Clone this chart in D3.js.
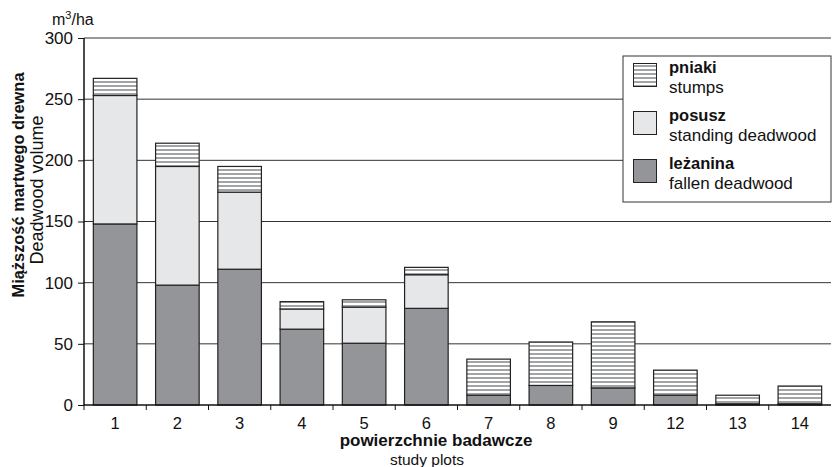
<!DOCTYPE html>
<html>
<head>
<meta charset="utf-8">
<script src="https://cdn.jsdelivr.net/npm/d3@7"></script>
<style>
body { margin: 0; background: #fff; }
text { font-family: "Liberation Sans", Arial, sans-serif; fill: #111; }
</style>
</head>
<body>
<script>
// study plots and volumes (m3/ha)
var plots = ["1","2","3","4","5","6","7","8","9","12","13","14"];
var fallen   = [148, 98, 111, 62, 50.5, 79, 8, 16, 14, 8, 1, 1];      // leżanina
var standing = [105, 97, 63, 16.5, 29.5, 27.5, 0, 0, 0, 0, 0, 0];      // posusz
var stumps   = [14, 19, 21, 6, 6, 6, 29.5, 35.5, 54, 20.5, 7, 14.5];   // pniaki
var yTicks = [0, 50, 100, 150, 200, 250, 300];

var W = 832, H = 467;
var m = {left: 84, right: 1, top: 38, bottom: 62};

var svg = d3.select("body").append("svg")
	.attr("width", W)
	.attr("height", H);

// hatch for stumps
var defs = svg.append("defs");
var pat = defs.append("pattern")
	.attr("id", "hatch")
	.attr("patternUnits", "userSpaceOnUse")
	.attr("width", 8).attr("height", 4);
pat.append("rect").attr("width", 8).attr("height", 4).attr("fill", "#fff");
pat.append("rect").attr("y", 1).attr("width", 8).attr("height", 2).attr("fill", "#a3a4a6");

var x = d3.scaleBand()
	.domain(plots)
	.range([m.left, W - m.right])
	.paddingInner(0.3)
	.paddingOuter(0.15);

var y = d3.scaleLinear()
	.domain([0, 300])
	.range([H - m.bottom, m.top]);

// grid lines
svg.append("g")
	.selectAll("line")
	.data(yTicks.slice(1))
	.enter().append("line")
	.attr("x1", m.left).attr("x2", W - m.right)
	.attr("y1", function(d) { return y(d); })
	.attr("y2", function(d) { return y(d); })
	.attr("stroke", "#333").attr("stroke-width", 1);

// stack the three series
var rows = plots.map(function(p, i) {
	return {plot: p, fallen: fallen[i], standing: standing[i], stumps: stumps[i]};
});
var keys = ["fallen", "standing", "stumps"];
var fills = {fallen: "#939598", standing: "#e6e7e8", stumps: "url(#hatch)"};
var series = d3.stack().keys(keys)(rows);

svg.append("g")
	.selectAll("g")
	.data(series)
	.enter().append("g")
	.attr("fill", function(s) { return fills[s.key]; })
	.selectAll("rect")
	.data(function(s) { return s.filter(function(d) { return d[1] - d[0] > 0; }); })
	.enter().append("rect")
	.attr("x", function(d) { return x(d.data.plot); })
	.attr("width", x.bandwidth())
	.attr("y", function(d) { return y(d[1]); })
	.attr("height", function(d) { return y(d[0]) - y(d[1]); })
	.attr("stroke", "#222")
	.attr("stroke-width", 1.2);

// y axis
var yAxis = svg.append("g")
	.attr("transform", "translate(" + m.left + ",0)")
	.call(d3.axisLeft(y).tickValues(yTicks).tickSize(6).tickPadding(5));
yAxis.select(".domain").attr("stroke", "#111").attr("stroke-width", 1.5).attr("d", "M0," + y(300) + "V" + y(0));
yAxis.selectAll("line").attr("stroke", "#111");
yAxis.selectAll("text").style("font-size", "17px").attr("fill", "#111");

// x axis, ticks between bands
var xAxis = svg.append("g")
	.attr("transform", "translate(0," + y(0) + ")");
xAxis.append("line")
	.attr("x1", m.left).attr("x2", W - m.right)
	.attr("stroke", "#111").attr("stroke-width", 1.5);
var step = x.step();
xAxis.selectAll(".tk")
	.data(plots)
	.enter().append("line")
	.attr("class", "tk")
	.attr("x1", function(d) { return x(d) - x.paddingInner() * step / 2; })
	.attr("x2", function(d) { return x(d) - x.paddingInner() * step / 2; })
	.attr("y1", 0).attr("y2", 5)
	.attr("stroke", "#111");
xAxis.selectAll(".lb")
	.data(plots)
	.enter().append("text")
	.attr("class", "lb")
	.attr("x", function(d) { return x(d) + x.bandwidth() / 2; })
	.attr("y", 24)
	.attr("text-anchor", "middle")
	.style("font-size", "16.5px")
	.text(function(d) { return d; });

// axis titles
svg.append("text")
	.attr("x", 436).attr("y", 446)
	.attr("text-anchor", "middle")
	.style("font-size", "17px").style("font-weight", "bold")
	.text("powierzchnie badawcze");
svg.append("text")
	.attr("x", 427).attr("y", 465)
	.attr("text-anchor", "middle")
	.style("font-size", "15.5px")
	.text("study plots");

svg.append("text")
	.attr("transform", "translate(24,185) rotate(-90)")
	.attr("text-anchor", "middle")
	.style("font-size", "16.4px").style("font-weight", "bold")
	.text("Miąższość martwego drewna");
svg.append("text")
	.attr("transform", "translate(43,190) rotate(-90)")
	.attr("text-anchor", "middle")
	.style("font-size", "18px")
	.text("Deadwood volume");

var unit = svg.append("text")
	.attr("x", 52).attr("y", 25)
	.style("font-size", "16px");
unit.append("tspan").text("m");
unit.append("tspan").attr("dy", -6).style("font-size", "11px").text("3");
unit.append("tspan").attr("dy", 6).text("/ha");

// legend
var leg = svg.append("g").attr("transform", "translate(623,56)");
leg.append("rect")
	.attr("width", 208).attr("height", 146)
	.attr("fill", "#fff").attr("stroke", "#333");
var legItems = [
	{key: "stumps", pl: "pniaki", en: "stumps"},
	{key: "standing", pl: "posusz", en: "standing deadwood"},
	{key: "fallen", pl: "leżanina", en: "fallen deadwood"}
];
var li = leg.selectAll(".li")
	.data(legItems)
	.enter().append("g")
	.attr("class", "li")
	.attr("transform", function(d, i) { return "translate(0," + (i * 48) + ")"; });
li.append("rect")
	.attr("x", 10.5).attr("y", 7.5)
	.attr("width", 23).attr("height", 23)
	.attr("fill", function(d) { return fills[d.key]; })
	.attr("stroke", "#222");
li.append("text")
	.attr("x", 46).attr("y", 17)
	.style("font-size", "16.5px").style("font-weight", "bold")
	.text(function(d) { return d.pl; });
li.append("text")
	.attr("x", 46).attr("y", 37)
	.style("font-size", "17px")
	.text(function(d) { return d.en; });
</script>
</body>
</html>
